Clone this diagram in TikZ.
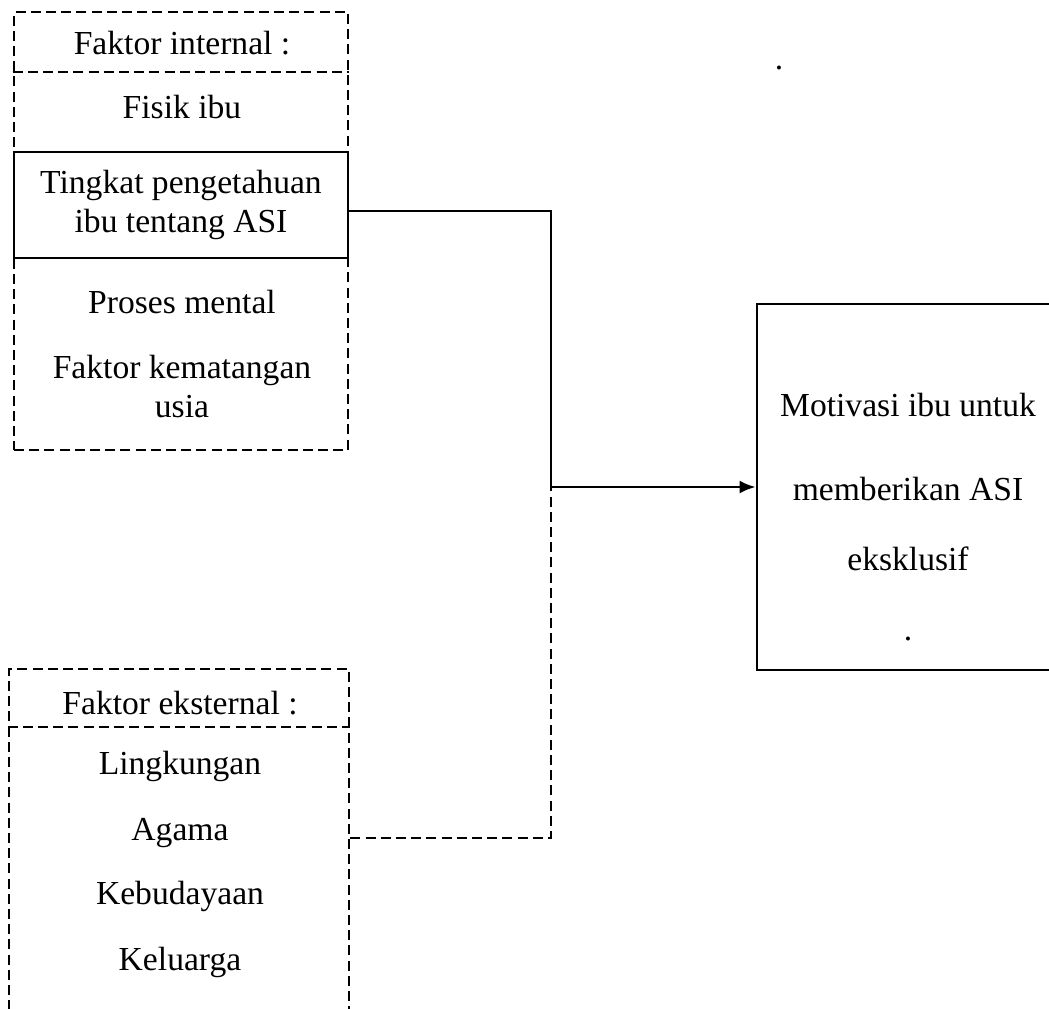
\documentclass[tikz,border=0pt]{standalone}
\usepackage{fontspec}
\setmainfont{Liberation Serif}
\usepackage{tikz}
\usetikzlibrary{arrows.meta}
\newcommand{\lineWidth}[0]{1.35pt}
\newcommand{\textSize}[0]{\fontsize{16.8}{19.5}\selectfont}

\begin{document}
\begin{tikzpicture}[x=0.5pt, y=-0.5pt]
  \tikzset{every node/.style={font=\textSize, align=center, inner sep=0pt}}
  \tikzset{dashbox/.style={draw, line width=\lineWidth, dash pattern=on 5pt off 2.6pt}}
  \tikzset{solidbox/.style={draw, line width=\lineWidth}}
  \useasboundingbox[fill=white] (0,0) rectangle (1049,1008);
  % faktor internal
  \node[dashbox, minimum width=167pt, minimum height=219pt](internal) at (181,231){};
  \draw[dashbox] (internal.west |- 0,72) -- (internal.east |- 0,72);
  \node(internal-head) at (182,43){Faktor internal :};
  \node(fisik) at (182,107){Fisik ibu};
  \node[solidbox, fill=white, minimum width=167pt, minimum height=53pt](tingkat) at (181,205){Tingkat pengetahuan\\ibu tentang ASI};
  \node(proses) at (182,302){Proses mental};
  \node(usia) at (182,386){Faktor kematangan\\usia};
  % faktor eksternal
  \node[dashbox, minimum width=170pt, minimum height=186pt](eksternal) at (179,855){};
  \draw[dashbox] (eksternal.west |- 0,727) -- (eksternal.east |- 0,727);
  \node(eksternal-head) at (180,703){Faktor eksternal :};
  \node(lingkungan) at (180,766){Lingkungan};
  \node(agama) at (180,833){Agama};
  \node(budaya) at (180,896){Kebudayaan};
  \node(keluarga) at (180,962){Keluarga};
  % motivasi
  \node[solidbox, minimum width=151.5pt, minimum height=183pt](motivasi) at (908.5,487){};
  \node[font=\fontsize{16.8}{35}\selectfont](motivasi-text) at (908,517){Motivasi ibu untuk\\[7pt]memberikan ASI\\eksklusif\\.};
  \node(stray) at (779,68){.};
  % connectors
  \coordinate(join) at (551,487);
  \draw[line width=\lineWidth] ([yshift=-3pt]tingkat.east) -| (join);
  \draw[line width=\lineWidth, -{Latex[length=8pt, width=6.5pt]}] (join) -- (motivasi.west);
  \draw[line width=\lineWidth, dash pattern=on 5pt off 2.6pt] ([yshift=8.5pt]eksternal.east) -| (join);
\end{tikzpicture}
\end{document}
